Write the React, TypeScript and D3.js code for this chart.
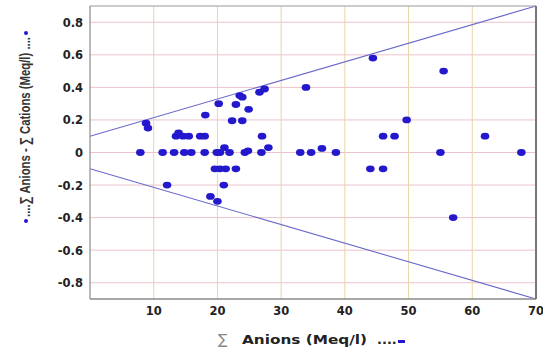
import React from 'react';
import * as d3 from 'd3';

// sum of anions (Meq/l) and ion balance (anions - cations)
const anions = [
  7.9, 8.8, 9.1, 11.4, 12.1, 13.2, 13.5, 13.9, 14.6, 14.8, 15.5, 15.9, 17.3, 18.0, 18.0,
  18.1, 18.9, 19.6, 19.9, 20.0, 20.2, 20.4, 20.4, 21.0, 21.1, 21.3, 21.9, 22.3, 22.9, 22.9,
  23.5, 23.9, 23.9, 24.3, 24.8, 24.9, 26.6, 26.9, 27.0, 27.4, 28.0, 33.0, 33.9, 34.7, 36.4,
  38.6, 44.0, 44.4, 46.0, 46.0, 47.8, 49.7, 55.0, 55.5, 57.0, 62.0, 67.7,
];
const balance = [
  0, 0.18, 0.15, 0, -0.2, 0, 0.1, 0.12, 0.1, 0, 0.1, 0, 0.1, 0.1, 0,
  0.23, -0.27, -0.1, 0, -0.3, 0.3, 0, -0.1, -0.2, 0.03, -0.1, 0, 0.195, -0.1, 0.295,
  0.35, 0.34, 0.195, 0, 0.01, 0.265, 0.37, 0, 0.1, 0.39, 0.03, 0, 0.4, 0, 0.025,
  0, -0.1, 0.58, -0.1, 0.1, 0.1, 0.2, 0, 0.5, -0.4, 0.1, 0,
];
const xTicks = [10, 20, 30, 40, 50, 60, 70];
const yTicks = [-0.8, -0.6, -0.4, -0.2, 0, 0.2, 0.4, 0.6, 0.8];
// tolerance envelope lines
const upperLine = [[0, 0.1], [70, 0.9]];
const lowerLine = [[0, -0.1], [70, -0.9]];

const width = 543;
const height = 352;
const left = 90;
const right = 536;
const top = 6;
const bottom = 299;

const App = () => {
  const x = d3.scaleLinear().domain([0, 70]).range([left, right]);
  const y = d3.scaleLinear().domain([-0.9, 0.9]).range([bottom, top]);
  const line = d3.line<number[]>().x((d) => x(d[0])).y((d) => y(d[1]));

  return (
    <svg width={width} height={height} style={{ position: 'absolute', left: 0, top: 0, background: '#fff' }}>
      <rect x={left} y={top} width={right - left} height={bottom - top} fill="#fff" />
      {yTicks.map((t) => (
        <line key={'h' + t} x1={left} x2={right} y1={y(t)} y2={y(t)} stroke="#ebc3cb" strokeWidth={1} />
      ))}
      {xTicks.slice(0, -1).map((t) => (
        <line key={'v' + t} x1={x(t)} x2={x(t)} y1={top} y2={bottom} stroke="#e8d6a6" strokeWidth={1} />
      ))}
      <path d={line(upperLine) || ''} stroke="#6a6acc" strokeWidth={1.1} fill="none" />
      <path d={line(lowerLine) || ''} stroke="#6a6acc" strokeWidth={1.1} fill="none" />
      {anions.map((a, i) => (
        <ellipse key={i} cx={x(a)} cy={y(balance[i])} rx={4.3} ry={3.4} fill="#2318cc" />
      ))}
      <line x1={left} x2={right} y1={top} y2={top} stroke="#999" strokeWidth={1.2} />
      <line x1={left} x2={left} y1={top} y2={bottom} stroke="#8a8a8a" strokeWidth={1.2} />
      <line x1={left} x2={right} y1={bottom} y2={bottom} stroke="#8a8a8a" strokeWidth={1.5} />
      <line x1={right} x2={right} y1={top} y2={bottom} stroke="#777" strokeWidth={2} />
      {yTicks.map((t) => (
        <text key={'yl' + t} x={83} y={y(t) + 4.5} textAnchor="end" fontFamily="DejaVu Sans" fontWeight="bold" fontSize={11.5} fill="#222">
          {t === 0 ? '0' : String(t)}
        </text>
      ))}
      {xTicks.map((t) => (
        <text key={'xl' + t} x={x(t)} y={315} textAnchor="middle" fontFamily="DejaVu Sans" fontWeight="bold" fontSize={11.5} fill="#222">
          {t}
        </text>
      ))}
      <text x={218} y={344} fontFamily="DejaVu Sans" fontSize={14} fill="#888">∑</text>
      <text x={242} y={344} fontFamily="DejaVu Sans" fontWeight="bold" fontSize={13} fill="#222" textLength={125} lengthAdjust="spacingAndGlyphs">
        Anions (Meq/l)
      </text>
      <text x={377} y={344} fontFamily="DejaVu Sans" fontWeight="bold" fontSize={13} fill="#222">....</text>
      <rect x={398} y={340} width={7} height={3} fill="#2318cc" />
      <g transform="translate(30, 127) rotate(-90)">
        <circle cx={-94} cy={-4} r={2} fill="#2318cc" />
        <text x={0} y={0} textAnchor="middle" fontFamily="Liberation Sans Narrow, Liberation Sans" fontWeight="bold" fontSize={14.5} fill="#333" textLength={180} lengthAdjust="spacingAndGlyphs">
          ....∑ Anions - ∑ Cations (Meq/l) ....
        </text>
        <circle cx={94} cy={-4} r={2} fill="#2318cc" />
      </g>
    </svg>
  );
};

export default App;
